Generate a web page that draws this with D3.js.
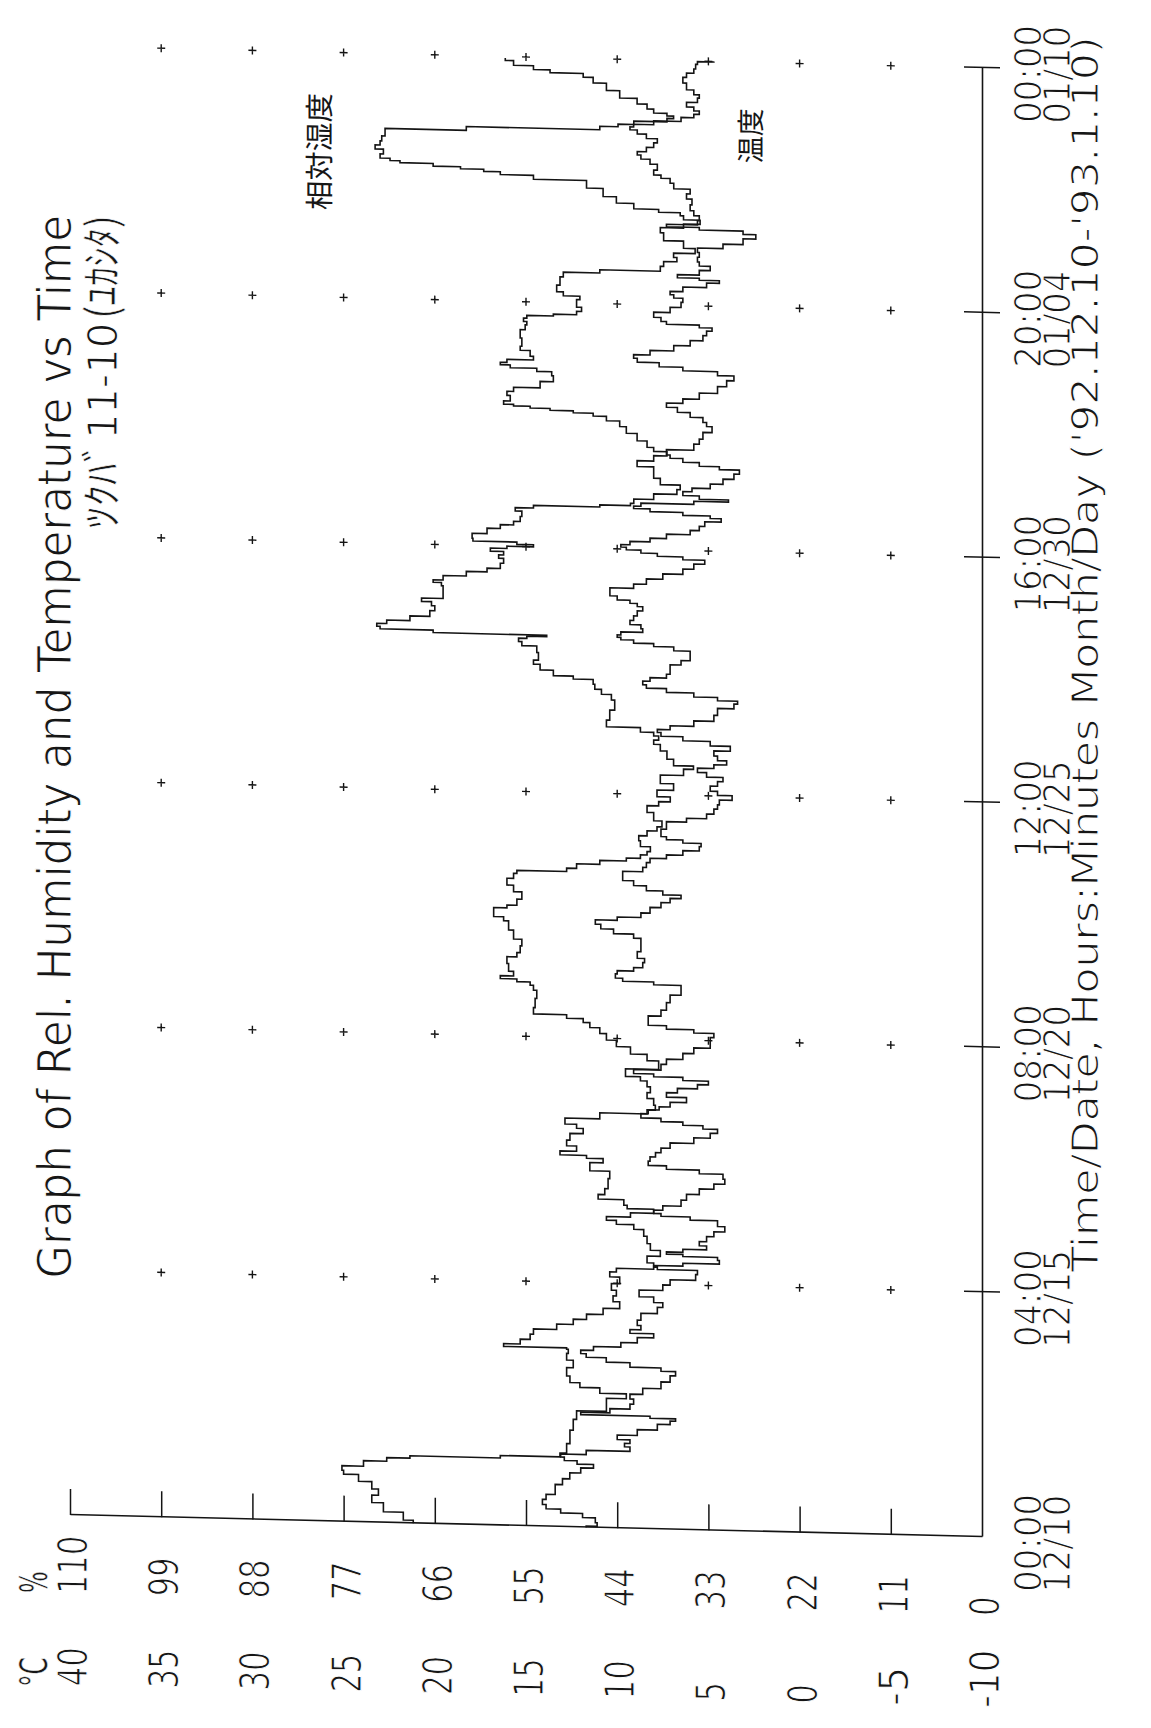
<!DOCTYPE html>
<html>
<head>
<meta charset="utf-8">
<script src="https://cdn.jsdelivr.net/npm/d3@7"></script>
<style>
  body { margin: 0; background: #fff; }
  svg { display: block; background: #fff; }
  .pt { font-family: "Liberation Sans Narrow", "DejaVu Sans Condensed", "DejaVu Sans", sans-serif;
        fill: #161616; stroke: #fff; stroke-width: 1.1px; }
  .pt.soft { stroke-width: 0.5px; }
  .kana { font-family: "Noto Sans CJK JP", sans-serif; fill: #161616; stroke: #fff; stroke-width: 0.6px; }
  .jp { font-family: "Noto Sans CJK JP", sans-serif; fill: #161616; }
</style>
</head>
<body>
<script>
// Relative humidity (%) : [hours since '92.12.10 00:00, value]
const humidity = [
  [0,68.6],[3.1,69.8],[7.9,72.2],[12.1,73.6],[15.5,72.8],[18.3,73.6],[22.9,75.2],[25.2,77.0],[26.9,77.2],[29.7,74.6],
  [32.5,71.8],[33.4,69.0],[34.9,58.1],[35.9,50.9],[38.9,50.1],[45.6,49.7],[52.5,49.3],[56.7,48.9],[61.3,45.3],[64.7,45.3],
  [66.6,42.9],[69.7,46.1],[72.0,48.5],[74.4,49.7],[78.6,50.1],[82.9,49.3],[86.2,50.1],[89.6,49.9],[90.4,50.1],[91.0,57.7],
  [93.2,55.7],[95.9,54.5],[98.5,54.1],[101.3,51.3],[104.0,49.3],[106.7,47.7],[109.4,45.7],[113.0,43.7],[116.4,44.5],
  [118.8,44.1],[122.2,44.7],[125.5,43.7],[128.9,44.9],[130.6,44.1],[132.6,39.6],[136.9,40.4],[139.5,38.8],[142.8,40.0],
  [146.2,40.4],[150.3,40.8],[152.8,42.0],[155.1,44.1],[156.7,45.3],[158.7,42.4],[161.1,39.6],[162.8,42.8],[164.5,43.2],
  [168.4,46.3],[169.2,45.5],[174.4,45.1],[179.5,44.9],[181.8,47.3],[183.5,47.3],[186.2,45.7],[187.8,47.7],[189.0,50.9],
  [191.8,48.9],[194.3,50.1],[197.6,49.7],[201.2,48.1],[202.9,48.9],[205.2,50.3],[209.0,46.1],[211.3,40.4],[213.1,39.4],
  [216.3,39.6],[219.7,40.4],[222.2,40.0],[225.6,40.4],[228.1,41.2],[229.7,43.0],[235.9,39.0],[238.4,40.4],[242.3,42.4],
  [245.5,44.1],[248.7,45.3],[252.0,46.1],[254.5,47.3],[256.9,48.1],[258.4,50.1],[260.5,54.1],[264.8,53.9],[269.8,53.7],
  [273.1,54.1],[274.8,54.5],[276.4,56.1],[277.5,58.1],[279.3,56.5],[282.2,57.1],[287.2,57.3],[289.0,56.1],[291.6,55.7],
  [295.9,55.5],[298.3,56.5],[305.0,57.1],[307.5,57.7],[309.0,58.9],[312.4,58.9],[313.3,57.3],[315.2,56.1],[319.5,55.5],
  [322.7,56.5],[326.1,57.3],[329.6,56.5],[331.2,56.1],[332.7,50.1],[334.6,48.9],[337.4,46.1],[338.6,42.9],[340.4,41.2],
  [342.2,40.4],[343.9,40.0],[347.2,41.2],[349.7,41.4],[352.3,40.4],[354.9,39.2],[356.6,38.6],[360.8,39.6],[365.0,40.4],
  [367.6,39.0],[369.4,37.6],[372.6,39.2],[376.1,37.2],[379.3,38.8],[384.7,36.0],[385.8,34.8],[388.0,37.2],[392.2,38.0],
  [396.2,38.8],[398.7,39.6],[400.5,39.0],[402.9,39.6],[404.1,41.2],[407.4,45.3],[410.9,44.9],[417.7,44.3],[421.0,44.7],
  [423.4,45.9],[425.9,46.7],[428.4,46.9],[430.7,49.3],[431.3,51.7],[436.2,53.3],[437.0,54.1],[440.4,53.5],[444.6,53.7],
  [447.0,55.5],[448.7,55.9],[450.4,54.9],[450.9,52.5],[451.8,66.2],[453.4,72.6],[454.5,73.0],[456.3,71.8],[458.0,69.0],
  [461.1,66.6],[463.7,66.0],[466.2,66.4],[467.8,67.6],[469.7,65.0],[473.9,65.0],[476.4,65.2],[477.2,66.2],[479.0,65.0],
  [481.8,62.2],[483.7,59.7],[485.6,58.1],[489.0,57.7],[490.6,58.3],[492.4,57.7],[494.2,59.3],[495.5,57.3],[496.5,54.1],
  [497.6,56.1],[498.8,61.4],[500.4,61.5],[503.9,59.7],[505.9,58.1],[507.8,56.5],[509.5,55.7],[512.9,55.5],[515.0,56.3],
  [516.3,54.1],[517.7,46.1],[518.4,42.4],[520.1,42.0],[522.8,39.6],[525.8,36.8],[527.6,36.4],[530.5,38.8],[533.9,39.6],
  [536.4,39.6],[539.5,41.6],[542.3,39.6],[545.0,38.0],[546.6,39.6],[549.0,40.4],[553.0,41.6],[556.3,42.9],[559.6,43.7],
  [561.9,45.3],[564.0,46.9],[564.8,49.3],[565.9,52.1],[566.6,54.5],[567.7,56.5],[568.1,57.7],[571.0,56.9],[573.8,57.3],
  [575.1,56.5],[578.1,53.3],[581.6,51.7],[584.1,51.9],[585.7,53.7],[587.2,56.9],[588.5,58.1],[589.7,57.3],[591.6,54.1],
  [593.3,54.5],[595.0,54.5],[595.8,55.7],[599.1,55.5],[604.2,55.7],[607.5,55.1],[609.2,54.9],[610.9,55.3],[612.6,54.9],
  [613.7,51.7],[614.5,48.9],[617.1,48.3],[618.7,48.9],[621.2,48.9],[622.4,48.5],[624.6,50.5],[626.4,51.3],[631.4,50.9],
  [634.8,50.5],[636.2,46.1],[638.1,38.8],[641.2,38.4],[643.0,36.8],[645.5,37.2],[647.4,34.6],[650.6,36.0],[654.7,38.4],
  [658.5,38.8],[660.0,36.0],[662.7,34.0],[664.2,36.0],[666.7,36.4],[667.3,39.0],[669.5,42.0],[672.7,44.1],[675.9,45.7],
  [680.8,47.7],[683.5,54.1],[684.8,58.1],[686.3,60.1],[686.9,62.9],[688.3,66.2],[689.6,70.2],[690.3,71.4],[691.9,72.6],
  [694.4,72.2],[696.8,73.2],[698.5,72.6],[701.0,72.4],[703.6,72.0],[705.3,72.0],[706.9,62.2],[709.2,46.1],[710.4,43.9],
  [711.8,42.0],[713.9,38.0],[715.3,37.2],[716.4,38.0],[717.9,39.6],[720.4,40.4],[722.8,41.6],[726.0,43.7],[730.1,45.3],
  [733.3,46.9],[735.7,48.1],[737.0,52.1],[738.5,54.1],[740.8,56.5],[743.2,57.5]
];

// Temperature (°C) : [hours since '92.12.10 00:00, value]
const temperature = [
  [0,11.7],[1.3,11.1],[3.8,11.2],[6.1,11.9],[8.0,13.1],[9.9,13.9],[12.4,14.1],[15.0,13.9],[17.6,13.4],[20.1,13.4],
  [22.7,13.0],[26.1,12.6],[28.9,12.0],[31.3,11.3],[32.6,12.2],[34.7,12.9],[36.0,13.1],[37.7,11.7],[40.4,9.3],[42.2,9.6],
  [43.9,9.3],[45.9,10.0],[48.5,8.9],[51.8,7.8],[54.4,7.1],[55.3,6.8],[56.8,8.2],[57.3,12.0],[59.3,10.4],[61.6,9.3],
  [64.4,9.1],[66.7,9.3],[69.4,8.6],[72.9,7.6],[76.3,7.1],[79.4,6.8],[80.6,7.6],[82.8,9.3],[85.1,10.6],[87.2,11.7],
  [88.8,12.0],[90.7,11.3],[92.8,9.8],[95.4,8.9],[98.2,8.0],[99.6,9.3],[101.9,8.7],[103.9,8.9],[107.3,8.7],[111.0,7.8],
  [113.6,7.5],[115.9,8.0],[119.1,8.8],[122.7,7.5],[124.8,7.1],[128.1,5.7],[130.7,5.6],[132.2,7.8],[133.1,8.0],[133.9,6.4],
  [136.0,4.4],[137.7,4.5],[139.0,6.4],[139.8,7.3],[141.2,6.4],[142.9,5.1],[145.1,5.5],[147.2,5.1],[150.4,4.7],[152.2,4.1],
  [155.8,4.5],[158.0,6.0],[159.0,7.6],[160.7,8.0],[162.5,7.5],[165.2,6.5],[168.6,6.2],[171.3,5.5],[174.4,4.7],[176.6,4.1],
  [179.5,4.2],[181.5,5.5],[183.2,7.3],[185.0,8.3],[187.5,8.2],[189.4,7.9],[192.0,7.6],[194.1,7.1],[197.4,5.8],[199.9,4.9],
  [202.4,4.5],[204.0,5.3],[205.7,6.4],[207.2,7.6],[209.0,8.7],[211.5,8.3],[213.1,7.7],[214.8,7.1],[217.9,6.2],[219.9,7.3],
  [222.5,6.7],[224.4,5.6],[226.8,5.0],[228.2,6.4],[230.0,8.0],[230.9,9.1],[234.2,7.6],[236.8,7.3],[239.5,6.4],[243.0,5.8],
  [245.4,4.9],[248.3,4.9],[250.9,4.7],[252.5,5.8],[254.2,7.3],[256.0,8.3],[258.5,8.3],[261.2,7.6],[264.6,7.3],[268.9,7.1],
  [272.5,6.5],[274.7,6.5],[276.6,8.0],[277.6,9.7],[279.6,10.1],[281.9,10.0],[282.8,9.1],[285.5,8.6],[288.0,8.5],[289.7,8.9],
  [294.8,8.7],[298.2,8.7],[299.8,9.1],[302.3,10.2],[304.4,10.9],[306.9,11.2],[308.8,10.0],[310.3,8.7],[313.5,8.2],[316.1,7.6],
  [318.7,7.1],[320.5,6.5],[322.1,7.5],[324.4,8.4],[326.9,9.1],[329.3,9.7],[331.9,9.7],[333.7,8.6],[336.2,8.4],[338.8,8.2],
  [340.6,7.3],[342.6,6.4],[345.3,5.5],[347.0,5.4],[348.6,6.4],[350.0,7.3],[351.6,7.6],[357.6,7.3],[359.3,6.2],[361.5,5.1],
  [364.1,4.7],[366.7,4.5],[368.4,4.4],[371.6,3.7],[373.1,4.5],[375.7,4.9],[378.3,4.5],[380.4,4.2],[382.5,5.1],[385.0,5.6],
  [386.8,4.7],[388.9,4.0],[391.0,4.5],[393.5,4.7],[396.2,3.8],[398.5,4.9],[400.7,6.4],[402.6,7.6],[404.4,7.8],[405.7,7.1],
  [408.4,5.8],[411.2,4.7],[414.6,4.5],[418.2,3.6],[419.5,3.4],[421.0,4.5],[422.8,5.8],[425.0,7.3],[426.6,8.4],[428.3,8.6],
  [430.4,8.2],[431.9,7.3],[434.3,7.1],[436.9,7.1],[439.0,6.5],[441.4,6.0],[443.9,6.0],[446.2,6.9],[447.7,8.0],[449.2,9.1],
  [450.8,9.8],[451.6,10.0],[453.2,9.8],[454.8,8.6],[456.8,8.7],[458.8,9.3],[461.0,9.1],[463.5,8.9],[466.2,8.6],[467.8,8.9],
  [469.4,9.3],[470.9,10.0],[473.4,10.4],[475.4,10.4],[477.0,9.1],[479.8,8.4],[482.5,7.5],[485.3,6.4],[487.9,5.8],[490.6,5.2],
  [492.0,6.4],[493.4,7.8],[494.9,8.7],[496.4,9.5],[497.5,9.8],[499.0,9.3],[500.9,8.2],[502.7,7.3],[505.4,6.0],[507.1,5.5],
  [509.7,5.2],[511.9,4.3],[513.1,4.9],[514.4,6.4],[516.1,8.2],[517.2,9.1],[518.5,8.7],[520.4,5.8],[521.6,3.9],[522.6,5.5],
  [525.0,6.4],[526.7,5.9],[528.6,4.9],[531.3,4.2],[533.9,3.6],[536.6,3.3],[538.1,4.4],[539.5,5.5],[541.8,6.4],[543.3,7.1],
  [545.0,7.3],[548.7,5.8],[551.3,5.5],[553.8,5.3],[558.2,4.8],[559.8,5.1],[562.3,5.3],[564.7,6.0],[567.1,6.7],[569.5,7.3],
  [571.4,6.4],[574.1,5.5],[577.7,4.5],[581.2,4.0],[583.8,3.6],[586.1,4.5],[587.8,6.4],[589.7,7.7],[591.9,8.9],[593.6,9.1],
  [595.5,8.2],[598.3,6.9],[601.1,6.0],[603.7,5.3],[606.3,5.1],[608.4,4.8],[609.6,5.5],[611.0,7.3],[612.5,7.6],[614.9,8.0],
  [617.7,7.1],[620.3,6.5],[622.9,6.4],[624.5,6.9],[626.2,7.1],[627.9,6.4],[630.9,5.1],[632.5,4.4],[633.6,5.5],[634.5,6.7],
  [636.7,5.5],[639.4,4.9],[641.0,5.5],[643.5,5.6],[645.8,5.5],[648.4,5.6],[650.3,4.2],[652.9,3.1],[656.2,2.4],[657.4,3.1],
  [659.5,5.5],[660.0,7.3],[662.0,5.6],[664.4,5.5],[666.9,5.8],[669.4,6.0],[672.8,5.9],[675.3,6.2],[677.9,6.0],[680.2,6.9],
  [683.5,7.1],[685.0,7.6],[686.6,8.0],[690.0,7.8],[692.5,8.2],[694.9,8.7],[696.6,8.9],[698.4,8.4],[701.0,8.0],[703.2,7.8],
  [705.2,8.4],[707.6,8.9],[709.2,9.3],[710.5,9.1],[712.0,8.0],[714.4,6.5],[716.2,5.8],[717.9,5.5],[719.6,5.8],[721.7,6.2],
  [724.4,5.6],[726.1,5.5],[727.7,5.8],[731.0,6.2],[734.4,6.4],[736.9,6.2],[738.7,5.8],[741.2,5.7],[743.5,5.6],[744,4.7]
];

// Time axis: hours since start, with clock and date labels
const timeTicks   = [0, 124, 248, 372, 496, 620, 744];
const clockLabels = ["00:00", "04:00", "08:00", "12:00", "16:00", "20:00", "00:00"];
const dateLabels  = ["12/10", "12/15", "12/20", "12/25", "12/30", "01/04", "01/10"];

// Value axis ticks: relative humidity (%) and temperature (°C) share one scale
const humTicks  = [0, 11, 22, 33, 44, 55, 66, 77, 88, 99, 110];
const tempTicks = [-10, -5, 0, 5, 10, 15, 20, 25, 30, 35, 40];
const gridLevels = [11, 22, 33, 44, 55, 66, 77, 88, 99];

const titleText = "Graph of Rel. Humidity and Temperature vs Time";
const subtitleParts = ["ﾂｸﾊﾞ", "11-10", "(ﾕｶｼﾀ)"];
const axisTitle = "Time/Date,  Hours:Minutes Month/Day ('92.12.10-'93.1.10)";
const humLabel  = "相対湿度";
const tempLabel = "温度";

// ---------------------------------------------------------------------------
const W = 1151, H = 1728;
const skew = 0.024;            // the sheet is drawn slightly sheared

const svg = d3.select("body").append("svg")
  .attr("width", W).attr("height", H)
  .attr("viewBox", `0 0 ${W} ${H}`);

const sheet = svg.append("g")
  .attr("transform", `matrix(1,${skew},0,1,0,${-skew * 985})`);

// The plot is laid out landscape and turned a quarter turn onto the page
const g = sheet.append("g").attr("transform", `translate(0,${H}) rotate(-90)`);

const x = d3.scaleLinear().domain([0, 744]).range([191, 1660]);
const yHum = d3.scaleLinear().domain([0, 110]).range([982, 70]);
const yTemp = d3.scaleLinear().domain([-10, 40]).range([982, 70]);

const ink = "#141414";
const labelSize = 41;
const timeSize = 37;

// value axis (left)
const vAxis = g.append("g")
  .attr("transform", `translate(${x(0)},0)`)
  .call(d3.axisLeft(yHum).tickValues(humTicks.filter(v => v > 0))
        .tickSize(-26).tickSizeOuter(0).tickFormat(""));
vAxis.select(".domain").attr("stroke", ink).attr("stroke-width", 1.6);
vAxis.selectAll(".tick line").attr("stroke", ink).attr("stroke-width", 1.5);

// time axis (bottom)
const tAxis = g.append("g")
  .attr("transform", `translate(0,${yHum(0)})`)
  .call(d3.axisBottom(x).tickValues(timeTicks.slice(1))
        .tickSize(18).tickSizeOuter(0).tickFormat(""));
tAxis.select(".domain").attr("stroke", ink).attr("stroke-width", 1.6);
tAxis.selectAll(".tick line").attr("y1", -18).attr("y2", 18)
  .attr("stroke", ink).attr("stroke-width", 1.5);

// "+" reference marks at each time tick and value level
const marks = [];
timeTicks.slice(1).forEach(t => gridLevels.forEach(v => marks.push([t, v])));
g.append("g").selectAll("path").data(marks).join("path")
  .attr("transform", d => `translate(${x(d[0])},${yHum(d[1])})`)
  .attr("d", "M-4,0H4M0,-4V4")
  .attr("stroke", ink).attr("stroke-width", 1.4).attr("fill", "none");

// series, drawn as a recorder's stepped trace
const hLine = d3.line().curve(d3.curveStep).x(d => x(d[0])).y(d => yHum(d[1]));
const tLine = d3.line().curve(d3.curveStep).x(d => x(d[0])).y(d => yTemp(d[1]));
g.append("path").datum(humidity).attr("d", hLine)
  .attr("fill", "none").attr("stroke", ink).attr("stroke-width", 1.6);
g.append("path").datum(temperature).attr("d", tLine)
  .attr("fill", "none").attr("stroke", ink).attr("stroke-width", 1.6);

// value labels, two columns
const charW = 19.5;
g.append("g").selectAll("text").data(humTicks).join("text")
  .attr("class", "pt")
  .attr("x", 112).attr("y", d => yHum(d) + 17)
  .attr("font-size", labelSize)
  .attr("textLength", d => String(d).length * charW)
  .attr("lengthAdjust", "spacingAndGlyphs")
  .text(d => d);
g.append("g").selectAll("text").data(tempTicks).join("text")
  .attr("class", "pt")
  .attr("x", 20).attr("y", d => yTemp(d) + 17)
  .attr("font-size", labelSize)
  .attr("textLength", d => String(d).length * charW)
  .attr("lengthAdjust", "spacingAndGlyphs")
  .text(d => d);
g.append("text").attr("class", "pt soft").attr("x", 112).attr("y", 47)
  .attr("font-size", 38).attr("textLength", 22).attr("lengthAdjust", "spacingAndGlyphs").text("%");
g.append("text").attr("class", "pt soft").attr("x", 18).attr("y", 47)
  .attr("font-size", 38).attr("textLength", 30).attr("lengthAdjust", "spacingAndGlyphs").text("°C");

// time labels
const tl = g.append("g").selectAll("g").data(timeTicks).join("g")
  .attr("transform", d => `translate(${x(d) - 5},0)`);
tl.append("text").attr("class", "pt").attr("y", 1041)
  .attr("font-size", timeSize).attr("text-anchor", "middle")
  .attr("textLength", 98).attr("lengthAdjust", "spacingAndGlyphs")
  .text((d, i) => clockLabels[i]);
tl.append("text").attr("class", "pt").attr("y", 1070)
  .attr("font-size", timeSize).attr("text-anchor", "middle")
  .attr("textLength", 98).attr("lengthAdjust", "spacingAndGlyphs")
  .text((d, i) => dateLabels[i]);

// titles
g.append("text").attr("class", "pt").attr("x", 427).attr("y", 71)
  .attr("font-size", 47).attr("textLength", 1064).attr("lengthAdjust", "spacingAndGlyphs")
  .text(titleText);

// subtitle: katakana parts and the plain code laid end to end
const subX = [1178, 1268, 1388];
const subLen = [88, 116, 104];
g.append("g").selectAll("text").data(subtitleParts).join("text")
  .attr("class", (d, i) => i === 1 ? "pt" : "kana")
  .attr("x", (d, i) => subX[i]).attr("y", 117)
  .attr("font-size", (d, i) => i === 1 ? 41 : 42)
  .attr("textLength", (d, i) => subLen[i]).attr("lengthAdjust", "spacingAndGlyphs")
  .text(d => d);

g.append("text").attr("class", "pt").attr("x", 458).attr("y", 1098)
  .attr("font-size", timeSize).attr("textLength", 1236).attr("lengthAdjust", "spacingAndGlyphs")
  .text(axisTitle);

// series annotations
g.append("text").attr("class", "jp").attr("x", 1502).attr("y", 330)
  .attr("font-size", 29).attr("textLength", 117).attr("lengthAdjust", "spacingAndGlyphs")
  .text(humLabel);
g.append("text").attr("class", "jp").attr("x", 1559).attr("y", 761)
  .attr("font-size", 28).attr("textLength", 55).attr("lengthAdjust", "spacingAndGlyphs")
  .text(tempLabel);
</script>
</body>
</html>
